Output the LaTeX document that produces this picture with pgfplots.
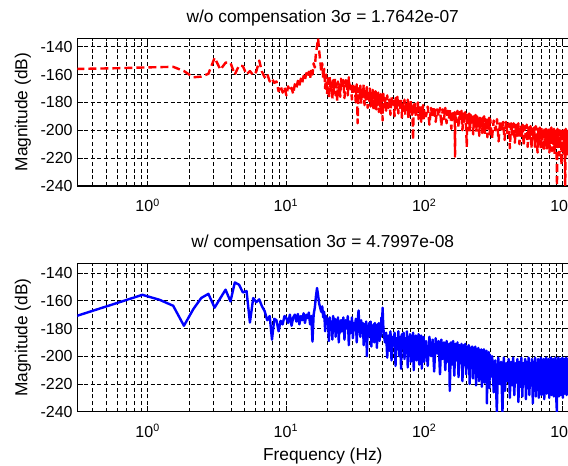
\documentclass[border=0pt]{standalone}
\usepackage{pgfplots}
\pgfplotsset{compat=1.18}
\usepackage{pgfplotstable}
\usepackage{fontspec}
\setmainfont{Liberation Sans}

% red: without compensation
\pgfplotstableread{
f db
0.305 -156
0.61 -155.5
0.916 -155
1.22 -154.7
1.53 -154.5
1.83 -157.5
2.14 -162
2.44 -161.5
2.75 -159.5
3.05 -148
3.36 -156.5
3.66 -151.5
3.97 -151.5
4.27 -160
4.58 -153.5
4.88 -154
5.19 -160
5.49 -157.5
5.80 -160.5
6.10 -158
6.41 -150
6.71 -158
7.02 -162
7.32 -159.5
7.63 -165
7.93 -163
8.24 -166
8.54 -165
8.85 -172
9.15 -168
9.46 -173
9.76 -169
10.07 -175
10.37 -168.5
10.68 -172
10.98 -169.5
11.29 -174
11.59 -167
11.90 -170
12.20 -164.5
12.51 -168
12.81 -163
13.12 -166
13.42 -161
13.73 -164
14.03 -159
14.34 -162
14.64 -158
14.95 -163
15.25 -156
15.56 -160
15.86 -152
16.17 -155
16.47 -145
16.78 -140
17.08 -134
17.39 -143
17.69 -150
18.00 -158
18.30 -152
18.61 -163
18.91 -156
19.22 -170
19.52 -160
19.83 -174
20.13 -163
20.44 -177
20.74 -161
21.05 -171
21.35 -166
21.66 -178
21.96 -164
22.27 -173
22.57 -162
22.88 -175
23.18 -167
23.49 -179
23.79 -165
24.10 -172
24.40 -168
24.71 -176
25.01 -163
25.5 -170
26.0 -164
26.5 -177
27.0 -166
27.5 -163
28.0 -175
28.5 -162
29.0 -172
29.5 -168
30.0 -178
30.5 -166
31.0 -174
31.5 -169
32.0 -180
32.5 -167
33.0 -195
33.5 -170
34.0 -177
34.5 -168
35.0 -181
35.5 -170
36.0 -176
36.5 -167
37.0 -182
37.5 -171
38.0 -178
38.5 -169
39.0 -184
39.5 -172
40.0 -179
40.5 -170
41.0 -183
41.5 -173
42.0 -180
42.5 -171
43.0 -186
43.5 -174
44.0 -181
44.5 -172
45.0 -185
45.5 -175
46.0 -182
46.5 -173
47.0 -187
47.5 -176
48.0 -183
48.5 -174
49.0 -188
49.5 -176
50.0 -193
50.5 -172
51 -184
52 -177
53 -186
54 -175
55 -184
56 -178
57 -189
58 -176
59 -183
60 -179
61 -190
62 -177
63 -185
64 -176
65 -188
66 -179
67 -184
68 -177
69 -191
70 -180
71 -186
72 -178
73 -189
74 -180
75 -185
76 -178
77 -192
78 -181
79 -187
80 -179
81 -190
82 -182
83 -207
84 -180
85 -188
86 -181
87 -191
88 -183
89 -187
90 -180
91 -192
92 -184
93 -189
94 -182
95 -194
96 -184
97 -188
98 -182
99 -193
100 -185
103 -190
106 -183
109 -196
112 -184
115 -191
118 -183
121 -194
124 -185
127 -190
130 -184
133 -197
136 -185
139 -192
142 -184
145 -195
148 -186
151 -191
154 -185
157 -199
160 -186
163 -193
166 -187
167 -219
168 -188
171 -194
174 -186
177 -198
180 -187
183 -193
186 -186
189 -200
192 -188
195 -194
198 -187
201 -199
203 -212
205 -189
208 -195
211 -188
214 -201
217 -189
220 -196
223 -188
226 -203
229 -190
232 -196
235 -189
238 -201
241 -190
244 -197
247 -190
250 -204
253 -191
256 -198
259 -190
262 -202
265 -191
268 -199
271 -190
274 -203
277 -192
280 -198
283 -191
286 -205
289 -192
292 -199
295 -191
298 -203
300 -192
309 -206
318 -193
327 -200
336 -192
345 -208
354 -193
363 -201
372 -194
381 -207
390 -194
399 -202
408 -195
416 -213
425 -195
434 -203
443 -195
452 -209
461 -196
470 -204
479 -195
488 -210
497 -196
506 -205
515 -196
524 -211
533 -197
542 -205
551 -196
560 -212
569 -197
578 -206
587 -197
596 -213
605 -197
614 -207
623 -198
632 -212
641 -197
650 -207
660 -216
669 -198
678 -208
687 -198
696 -214
705 -198
714 -208
723 -199
732 -215
741 -198
750 -209
759 -199
768 -214
777 -199
786 -208
795 -198
804 -216
813 -199
822 -209
831 -198
840 -215
849 -200
858 -210
867 -199
876 -217
885 -199
894 -210
903 -200
912 -240
920 -199
929 -211
938 -200
947 -218
956 -200
965 -210
974 -199
983 -225
992 -200
1001 -212
1010 -199
1019 -218
1028 -200
1037 -211
1046 -240
1055 -199
1064 -213
1073 -200
1082 -218
1091 -199
1100 -212
}\nocomp

% blue: with compensation
\pgfplotstableread{
f db
0.305 -171
0.61 -161.4
0.916 -155.7
1.22 -159.3
1.53 -163.6
1.83 -178
2.14 -166
2.44 -158
2.75 -155
3.05 -165
3.36 -158
3.66 -152
3.97 -160.5
4.27 -146.8
4.58 -148.4
4.88 -154
5.19 -153
5.49 -175.7
5.80 -158
6.10 -161
6.41 -159
6.71 -164
7.02 -167.5
7.32 -174
7.63 -171
7.93 -188
8.24 -173
8.54 -174
8.85 -182
9.15 -174.5
9.46 -177
9.76 -171
10.07 -172.5
10.37 -176
10.68 -170
10.98 -178
11.29 -172
11.59 -170
11.90 -175
12.20 -169.5
12.51 -177
12.81 -171
13.12 -174
13.42 -169
13.73 -176
14.03 -170
14.34 -172.5
14.64 -168.5
14.95 -177
15.25 -171
15.56 -189.4
15.86 -170
16.17 -165
16.47 -157
16.78 -150.8
17.08 -156
17.39 -162
17.69 -165
18.00 -168
18.30 -164
18.61 -172
18.91 -168
19.22 -182
19.52 -171
19.83 -176
20.13 -173
20.44 -189
20.74 -172
21.05 -180
21.35 -175
21.66 -188
21.96 -171
22.27 -178
22.57 -173
22.88 -186
23.18 -174
23.49 -181
23.79 -172
24.10 -190
24.40 -175
24.71 -183
25.01 -174
25.5 -182
26.0 -172
26.5 -188
27.0 -174
27.5 -180
28.0 -171
28.5 -192
29.0 -175
29.5 -183
30.0 -172
30.5 -187
31.0 -176
31.5 -181
32.0 -173
32.5 -190
33.0 -175
33.5 -167
34.0 -179
34.5 -186
35.0 -174
35.5 -183
36.0 -176
36.5 -192
37.0 -177
37.5 -184
38.0 -175
38.5 -200
39.0 -178
39.5 -186
40.0 -176
40.5 -183
41.0 -175
41.5 -193
42.0 -178
42.5 -185
43.0 -177
43.5 -190
44.0 -176
44.5 -184
45.0 -178
45.5 -194
46.0 -177
46.5 -185
47.0 -176
47.5 -189
48.0 -178
48.5 -186
49.0 -172
49.5 -179
50.0 -165
50.5 -177
51.0 -184
52 -190
53 -183
54 -201
55 -185
56 -196
57 -182
58 -203
59 -186
60 -192
61 -183
62 -207
63 -187
64 -195
65 -182
66 -200
67 -186
68 -209
69 -184
70 -194
71 -183
72 -202
73 -187
74 -196
75 -182
76 -208
77 -186
78 -193
79 -184
80 -204
81 -187
82 -197
83 -183
84 -210
85 -188
86 -195
87 -185
88 -203
89 -186
90 -198
91 -184
92 -206
93 -188
94 -196
95 -185
96 -209
97 -187
98 -199
99 -186
100 -204
103 -189
106 -207
109 -186
112 -200
115 -188
118 -211
121 -187
124 -198
127 -189
130 -213
133 -188
136 -202
139 -190
142 -210
145 -189
148 -204
151 -191
153 -225
156 -190
159 -206
162 -189
165 -214
168 -191
171 -203
174 -190
177 -215
180 -192
183 -205
186 -191
189 -218
192 -192
195 -206
198 -191
201 -213
204 -193
207 -208
210 -192
213 -220
216 -194
219 -207
222 -193
225 -216
228 -194
231 -209
234 -193
237 -221
240 -195
243 -210
246 -194
249 -218
252 -196
255 -211
258 -195
261 -222
264 -196
267 -212
270 -195
273 -219
276 -197
279 -213
282 -196
284 -234
287 -198
290 -214
293 -197
296 -223
299 -199
302 -215
310 -200
318 -226
326 -203
335 -240
343 -201
351 -220
359 -204
368 -240
376 -201
384 -225
392 -205
400 -218
408 -202
416 -230
424 -204
432 -221
440 -201
448 -228
456 -205
464 -219
472 -202
480 -233
488 -204
496 -222
504 -201
512 -229
520 -205
528 -220
536 -202
544 -231
552 -204
560 -223
568 -201
576 -228
584 -205
592 -221
600 -202
610 -234
618 -204
626 -224
634 -201
642 -229
650 -205
658 -222
666 -202
674 -230
682 -204
690 -221
698 -201
706 -228
714 -205
722 -223
730 -202
738 -231
746 -204
754 -220
762 -201
770 -227
778 -205
786 -222
794 -202
802 -230
810 -204
818 -221
826 -201
834 -228
842 -205
850 -223
858 -202
866 -229
874 -204
882 -220
890 -201
898 -227
910 -240
918 -203
926 -224
934 -201
942 -229
950 -205
958 -221
966 -202
974 -228
982 -204
990 -222
998 -201
1006 -230
1014 -205
1022 -221
1030 -202
1038 -227
1046 -204
1054 -220
1062 -201
1070 -228
1078 -205
1086 -222
1094 -202
1100 -226
}\withcomp

\pgfplotsset{
  magplot/.style={
    scale only axis,
    width=368.2pt,
    xmin=0.31, xmax=1100,
    ymin=-240,
    xtick={1,10,100,1000},
    xticklabels={10\textsuperscript{0},10\textsuperscript{1},10\textsuperscript{2},10\textsuperscript{3}},
    minor xtick={0.4,0.5,0.6,0.7,0.8,0.9,2,3,4,5,6,7,8,9,20,30,40,50,60,70,80,90,200,300,400,500,600,700,800,900},
    ytick={-240,-220,-200,-180,-160,-140},
    yticklabels={-240,-220,-200,-180,-160,-140},
    tick align=inside,
    major tick length=4pt, minor tick length=2pt,
    tick style={black, line width=0.5pt},
    xmajorgrids, xminorgrids, ymajorgrids,
    grid style={black, line width=0.5pt, dash pattern=on 3pt off 2pt},
    axis line style={black, line width=0.8pt},
    tick label style={font=\fontsize{12}{14}\selectfont},
    xticklabel style={yshift=-6pt},
    title style={font=\fontsize{13}{15}\selectfont, at={(axis description cs:0.5,1)}, anchor=base, yshift=6pt},
    ylabel style={font=\fontsize{13}{15}\selectfont, at={(axis description cs:-0.1018,0.5)}, anchor=base},
    xlabel style={font=\fontsize{13}{15}\selectfont, at={(axis description cs:0.5,-0.327)}, anchor=base},
    ylabel={Magnitude (dB)},
    clip=true,
  },
}

\begin{document}
\begin{tikzpicture}
\begin{semilogxaxis}[magplot,
    at={(57.98pt,-139.5pt)}, anchor=south west,
    height=110.8pt, ymax=-134,
    title={w/o compensation 3σ = 1.7642e-07}]
\addplot[red, line width=1.8pt, dash pattern=on 6pt off 3pt, line join=round] table[x=f, y=db] {\nocomp};
\end{semilogxaxis}
\begin{semilogxaxis}[magplot,
    at={(57.98pt,-308.8pt)}, anchor=south west,
    height=111.3pt, ymax=-133,
    title={w/ compensation 3σ = 4.7997e-08},
    xlabel={Frequency (Hz)}]
\addplot[blue, line width=1.8pt, line join=round] table[x=f, y=db] {\withcomp};
\end{semilogxaxis}
\pgfresetboundingbox
\useasboundingbox (0pt,0pt) rectangle (426pt,-349.5pt);
\end{tikzpicture}
\end{document}
